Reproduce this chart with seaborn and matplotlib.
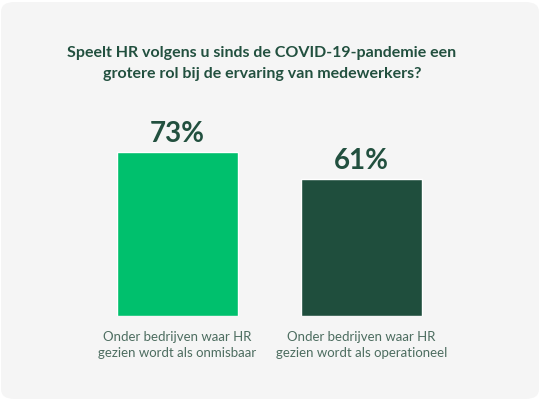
import matplotlib
matplotlib.use("Agg")
import matplotlib.pyplot as plt
import seaborn as sns
import pandas as pd
from matplotlib.patches import FancyBboxPatch

categories = ["Onder bedrijven waar HR\ngezien wordt als onmisbaar",
              "Onder bedrijven waar HR\ngezien wordt als operationeel"]
values = [73, 61]
colors = ["#00c06d", "#1f4e3d"]
title = "Speelt HR volgens u sinds de COVID-19-pandemie een\ngrotere rol bij de ervaring van medewerkers?"

sns.set_theme(style="white")
plt.rcParams['font.family'] = ['Lato', 'DejaVu Sans']

W, H = 541, 400
fig = plt.figure(figsize=(W/100, H/100), dpi=100, facecolor="white")
card = FancyBboxPatch((1/W, 1/H), 1-3/W, 1-3/H,
                      boxstyle="round,pad=0,rounding_size=0.025",
                      transform=fig.transFigure, facecolor="#f5f5f5",
                      edgecolor="none", zorder=-10)
fig.patches.append(card)

ax = fig.add_axes([85.5/W, (H-316)/H, 368/W, 224.5/H])
ax.set_zorder(5)
ax.set_facecolor("none")
df = pd.DataFrame({"cat": categories, "val": values})
sns.barplot(data=df, x="cat", y="val", hue="cat", palette=colors,
            width=0.66, legend=False, ax=ax, saturation=1)
ax.set_xlim(-0.5, 1.5)
ax.set_ylim(0, 100)
for c in ax.containers:
    ax.bar_label(c, fmt="%d%%", padding=3.5, fontsize=20, fontweight="bold",
                 color="#22503f")
ax.set_xlabel("")
ax.set_ylabel("")
ax.set_yticks([])
ax.tick_params(axis="x", length=0, pad=11, labelsize=9.5, labelcolor="#4d6d60")
for lbl in ax.get_xticklabels():
    lbl.set_linespacing(1.35)
sns.despine(ax=ax, left=True, bottom=True)

fig.text(262/W, 1-63.5/H, title, ha="center", va="center", fontsize=11.5,
         fontweight="bold", color="#22503f", linespacing=1.55)

fig.savefig("out.png", dpi=100, facecolor="white")
